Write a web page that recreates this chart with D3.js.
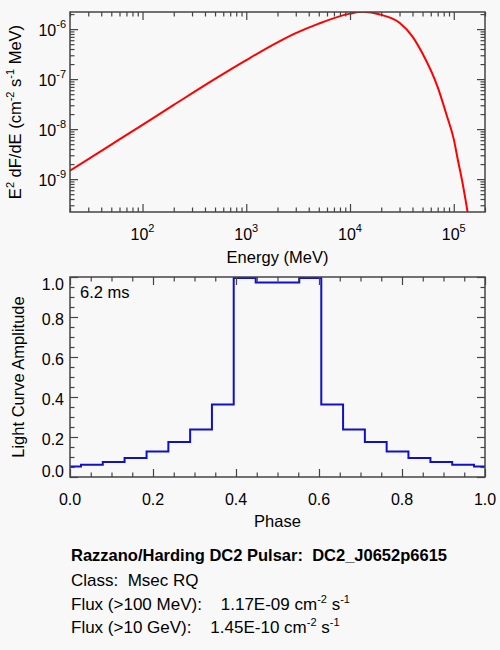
<!DOCTYPE html>
<html>
<head>
<meta charset="utf-8">
<script src="https://cdn.jsdelivr.net/npm/d3@7"></script>
<style>
  body { margin: 0; background: #f8f8f8; }
  svg { display: block; font-family: "Liberation Sans", Arial, sans-serif; }
  text { white-space: pre; fill: #000; }
</style>
</head>
<body>
<div id="root"></div>
<script>
// spectrum (MeV, cm^-2 s^-1 MeV)
const energyMeV = [20, 50, 100, 200, 500, 1000, 2000, 3000, 5000, 1e4, 1.3e4, 2e4, 3e4, 4e4, 5e4, 7e4, 8.5e4, 1e5, 1.1e5, 1.2e5, 1.3e5, 1.4e5]
const e2dfde = [1.47e-9, 4.9e-9, 1.22e-8, 3.05e-8, 1.01e-7, 2.4e-7, 5.43e-7, 8.3e-7, 1.29e-6, 2.04e-6, 2.22e-6, 1.93e-6, 1.34e-6, 7.1e-7, 3.25e-7, 6.9e-8, 1.96e-8, 6.3e-9, 2.3e-9, 9.6e-10, 3.8e-10, 1.5e-10]

const energyTicks = [1e2, 1e3, 1e4, 1e5]
const energyTickExp = ["2", "3", "4", "5"]
const fluxTicks = [1e-9, 1e-8, 1e-7, 1e-6]
const fluxTickExp = ["-9", "-8", "-7", "-6"]

// light curve (histogram, points at bin centres)
const phase = [0, 0.053, 0.105, 0.158, 0.211, 0.263, 0.316, 0.368, 0.421, 0.474, 0.526, 0.579, 0.632, 0.684, 0.737, 0.789, 0.842, 0.895, 0.947, 1.0]
const amplitude = [0.053, 0.061, 0.075, 0.095, 0.128, 0.175, 0.237, 0.362, 0.995, 0.973, 0.973, 0.995, 0.362, 0.237, 0.175, 0.128, 0.095, 0.075, 0.061, 0.053]

const phaseTicks = [0, 0.2, 0.4, 0.6, 0.8, 1.0]
const phaseTickLabels = ["0.0", "0.2", "0.4", "0.6", "0.8", "1.0"]
const ampTicks = [0, 0.2, 0.4, 0.6, 0.8, 1.0]
const ampTickLabels = ["0.0", "0.2", "0.4", "0.6", "0.8", "1.0"]

const periodLabel = "6.2 ms"
const titleLine = "Razzano/Harding DC2 Pulsar:  DC2_J0652p6615"
const classLine = "Class:  Msec RQ"
const fluxLines = [
    {pre: "Flux (>100 MeV):    1.17E-09 cm", mid: " s"},
    {pre: "Flux (>10 GeV):    1.45E-10 cm", mid: " s"}
]

const W = 500, H = 650
const left = 70, plotW = 415, plotH = 200
const top1 = 12, top2 = 277
const axisColor = "#444"
const majorLen = 8, minorLen = 4.5

const svg = d3.select("#root").append("svg").attr("width", W).attr("height", H)
svg.append("rect").attr("width", W).attr("height", H).attr("fill", "#f8f8f8")

// draws the box with inward ticks on all four sides
function frame(g, x, y, xMajor, xMinor, yMajor, yMinor) {
    const sides = [
        [d3.axisBottom(x), `translate(0,${plotH})`, xMajor, xMinor],
        [d3.axisTop(x), "translate(0,0)", xMajor, xMinor],
        [d3.axisLeft(y), "translate(0,0)", yMajor, yMinor],
        [d3.axisRight(y), `translate(${plotW},0)`, yMajor, yMinor]
    ]
    sides.forEach(([ax, tr, major, minor]) => {
        [[major, majorLen], [minor, minorLen]].forEach(([vals, len]) => {
            const a = g.append("g").attr("transform", tr)
                .call(ax.tickValues(vals).tickSize(-len).tickSizeOuter(0).tickFormat(""))
            a.select(".domain").remove()
            a.selectAll("line").attr("stroke", axisColor).attr("stroke-width", 1.2)
        })
    })
    g.append("rect").attr("width", plotW).attr("height", plotH)
        .attr("fill", "none").attr("stroke", axisColor).attr("stroke-width", 1.5)
}

// ---- spectrum ----
const g1 = svg.append("g").attr("transform", `translate(${left},${top1})`)
const x1 = d3.scaleLog().domain([20, 2e5]).range([0, plotW])
const y1 = d3.scaleLog().domain([2.2e-10, 2.2e-6]).range([plotH, 0])

g1.append("clipPath").attr("id", "clip1")
    .append("rect").attr("width", plotW).attr("height", plotH)

g1.append("path")
    .datum(energyMeV.map((e, i) => [e, e2dfde[i]]))
    .attr("clip-path", "url(#clip1)")
    .attr("fill", "none").attr("stroke", "#ff0000").attr("stroke-width", 2)
    .attr("d", d3.line().x(d => x1(d[0])).y(d => y1(d[1])).curve(d3.curveMonotoneX))

frame(g1, x1, y1,
    energyTicks, x1.ticks().filter(v => !energyTicks.includes(v)),
    fluxTicks, y1.ticks().filter(v => !fluxTicks.some(f => Math.abs(f - v) / f < 1e-6)))

energyTicks.forEach((v, i) => {
    const t = g1.append("text").attr("x", x1(v)).attr("y", plotH + 28)
        .attr("text-anchor", "middle").attr("font-size", 16).text("10")
    t.append("tspan").attr("dy", -8).attr("font-size", 11).text(energyTickExp[i])
})
fluxTicks.forEach((v, i) => {
    const t = g1.append("text").attr("x", -4).attr("y", y1(v) + 7)
        .attr("text-anchor", "end").attr("font-size", 16).text("10")
    t.append("tspan").attr("dy", -8).attr("font-size", 11).text(fluxTickExp[i])
})

g1.append("text").attr("x", plotW / 2).attr("y", plotH + 51)
    .attr("text-anchor", "middle").attr("font-size", 16.5).text("Energy (MeV)")

const yl = g1.append("text")
    .attr("transform", `translate(${21 - left},${plotH / 2}) rotate(-90)`)
    .attr("text-anchor", "middle").attr("font-size", 16.5)
yl.append("tspan").text("E")
yl.append("tspan").attr("dy", -7).attr("font-size", 11).text("2")
yl.append("tspan").attr("dy", 7).text(" dF/dE (cm")
yl.append("tspan").attr("dy", -7).attr("font-size", 11).text("-2")
yl.append("tspan").attr("dy", 7).text(" s")
yl.append("tspan").attr("dy", -7).attr("font-size", 11).text("-1")
yl.append("tspan").attr("dy", 7).text(" MeV)")

// ---- light curve ----
const g2 = svg.append("g").attr("transform", `translate(${left},${top2})`)
const x2 = d3.scaleLinear().domain([0, 1]).range([0, plotW])
const y2 = d3.scaleLinear().domain([0, 1]).range([plotH, 0])

g2.append("path")
    .datum(phase.map((p, i) => [p, amplitude[i]]))
    .attr("fill", "none").attr("stroke", "#1010c8").attr("stroke-width", 2)
    .attr("d", d3.line().x(d => x2(d[0])).y(d => y2(d[1])).curve(d3.curveStep))

frame(g2, x2, y2,
    phaseTicks, x2.ticks(20).filter(v => !phaseTicks.some(p => Math.abs(p - v) < 1e-6)),
    ampTicks, y2.ticks(20).filter(v => !ampTicks.some(p => Math.abs(p - v) < 1e-6)))

phaseTicks.forEach((v, i) => {
    g2.append("text").attr("x", x2(v)).attr("y", plotH + 28)
        .attr("text-anchor", "middle").attr("font-size", 16).text(phaseTickLabels[i])
})
ampTicks.forEach((v, i) => {
    // end labels sit inside the axis span as in the original
    const shift = v === 1 ? 5 : (v === 0 ? -8 : 0)
    g2.append("text").attr("x", -6).attr("y", y2(v) + 7.5 + shift)
        .attr("text-anchor", "end").attr("font-size", 16).text(ampTickLabels[i])
})

g2.append("text").attr("x", plotW / 2).attr("y", plotH + 50)
    .attr("text-anchor", "middle").attr("font-size", 16.5).text("Phase")

g2.append("text")
    .attr("transform", `translate(${24 - left},${plotH / 2}) rotate(-90)`)
    .attr("text-anchor", "middle").attr("font-size", 16.5).text("Light Curve Amplitude")

g2.append("text").attr("x", 10).attr("y", 21)
    .attr("font-size", 16.5).text(periodLabel)

// ---- info text ----
svg.append("text").attr("x", 71).attr("y", 561)
    .attr("font-size", 16.5).attr("font-weight", "bold").text(titleLine)
svg.append("text").attr("x", 71).attr("y", 586)
    .attr("font-size", 17).text(classLine)
fluxLines.forEach((l, i) => {
    const t = svg.append("text").attr("x", 71).attr("y", 610 + i * 22.5).attr("font-size", 17)
    t.append("tspan").text(l.pre)
    t.append("tspan").attr("dy", -7).attr("font-size", 11).text("-2")
    t.append("tspan").attr("dy", 7).text(l.mid)
    t.append("tspan").attr("dy", -7).attr("font-size", 11).text("-1")
})
</script>
</body>
</html>
